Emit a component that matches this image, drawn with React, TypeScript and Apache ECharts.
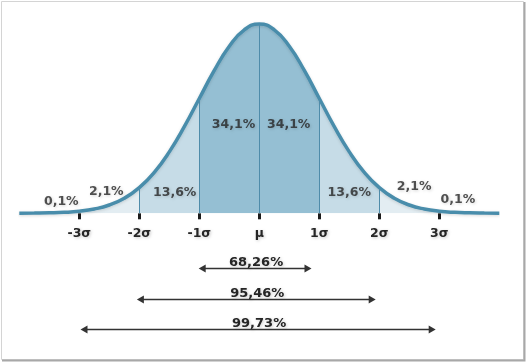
import React, { useEffect, useRef } from "react";
import * as echarts from "echarts";

// Curve samples (x in σ units, density height)
const xs = [-4, -3.75, -3.5, -3.25, -3, -2.75, -2.5, -2.25, -2, -1.75, -1.5, -1.25, -1, -0.75, -0.5, -0.25, 0,
  0.25, 0.5, 0.75, 1, 1.25, 1.5, 1.75, 2, 2.25, 2.5, 2.75, 3, 3.25, 3.5, 3.75, 4];
const density = [0.0001, 0.0004, 0.0009, 0.002, 0.0044, 0.0091, 0.0175, 0.0317, 0.054, 0.0863, 0.1295, 0.1826, 0.242, 0.3011, 0.3521, 0.3867, 0.3989,
  0.3867, 0.3521, 0.3011, 0.242, 0.1826, 0.1295, 0.0863, 0.054, 0.0317, 0.0175, 0.0091, 0.0044, 0.002, 0.0009, 0.0004, 0.0001];

// Band boundaries (vertical lines)
const bandEdges = [-2, -1, 0, 1, 2];

// Axis ticks
const tickValues = [-3, -2, -1, 0, 1, 2, 3];
const tickLabels = ["-3σ", "-2σ", "-1σ", "μ", "1σ", "2σ", "3σ"];

// Area percentage labels
const areaLabels = ["0,1%", "2,1%", "13,6%", "34,1%", "34,1%", "13,6%", "2,1%", "0,1%"];
const areaLabelX = [-3.3, -2.55, -1.41, -0.43, 0.49, 1.5, 2.58, 3.31];
const areaLabelY = [0.028, 0.0476, 0.0464, 0.19, 0.19, 0.0464, 0.058, 0.0316];

// Range arrows
const rangeLabels = ["68,26%", "95,46%", "99,73%"];
const rangeStart = [-1.01, -2.04, -2.98];
const rangeEnd = [0.87, 1.94, 2.94];
const rangeRow = [0.5, 1.5, 2.5];

const COLORS = {
  tail: "#e3edf2",
  light: "#c6dce7",
  dark: "#95bfd3",
  curve: "#4a8dab",
  edge: "#4f8caa",
  text: "#252525",
  axis: "#1c1c1c",
};

const FONT = "'DejaVu Sans', Verdana, sans-serif";

export default function App() {
  const ref = useRef<HTMLDivElement>(null);
  useEffect(() => {
    if (!ref.current) return;
    const chart = echarts.init(ref.current, null, { renderer: "svg" });
    const curve = xs.map((x, i) => [x, density[i]]);
    const textShadow = {
      textShadowColor: "rgba(0,0,0,0.2)",
      textShadowBlur: 3,
      textShadowOffsetX: 1,
      textShadowOffsetY: 1,
    };
    const option: any = {
      animation: false,
      backgroundColor: "#ffffff",
      grid: [
        { left: 20.5, right: 29.5, top: 23.5, bottom: 148.7 },
        { left: 20.5, right: 29.5, top: 252.5, height: 92 },
      ],
      xAxis: [
        {
          type: "value",
          gridIndex: 0,
          min: -3.98,
          max: 3.97,
          splitLine: { show: false },
          axisLine: {
            lineStyle: { color: COLORS.axis, width: 3, shadowColor: "rgba(0,0,0,0.25)", shadowBlur: 2, shadowOffsetY: 1 },
          },
          axisTick: {
            customValues: tickValues,
            length: 6,
            lineStyle: { color: COLORS.axis, width: 3 },
          },
          axisLabel: {
            customValues: tickValues,
            formatter: (v: number) => {
              const i = tickValues.indexOf(Math.round(v));
              return i >= 0 ? tickLabels[i] : "";
            },
            margin: 13,
            color: COLORS.text,
            fontFamily: FONT,
            fontWeight: "bold",
            fontSize: 12.5,
            ...textShadow,
          },
        },
        { type: "value", gridIndex: 1, min: -3.98, max: 3.97, show: false },
      ],
      yAxis: [
        { type: "value", gridIndex: 0, min: 0, max: 0.4, show: false },
        { type: "value", gridIndex: 1, min: 0, max: 3, inverse: true, show: false },
      ],
      visualMap: {
        show: false,
        type: "piecewise",
        seriesIndex: 0,
        dimension: 0,
        pieces: [
          { lt: -2, color: COLORS.tail },
          { gte: -2, lt: -1, color: COLORS.light },
          { gte: -1, lt: 1, color: COLORS.dark },
          { gte: 1, lt: 2, color: COLORS.light },
          { gte: 2, color: COLORS.tail },
        ],
      },
      series: [
        {
          type: "line",
          data: curve,
          smooth: true,
          showSymbol: false,
          lineStyle: { width: 0, opacity: 0 },
          areaStyle: { opacity: 1 },
          silent: true,
          z: 1,
          markLine: {
            silent: true,
            symbol: "none",
            label: { show: false },
            lineStyle: { color: COLORS.edge, width: 1, type: "solid" },
            data: bandEdges.map((b) => {
              const i = xs.indexOf(b);
              return [{ coord: [b, 0] }, { coord: [b, density[i]] }];
            }),
          },
        },
        {
          type: "line",
          data: curve,
          smooth: true,
          showSymbol: false,
          clip: false,
          silent: true,
          lineStyle: {
            width: 3.5,
            color: COLORS.curve,
            shadowColor: "rgba(0,0,0,0.15)",
            shadowBlur: 3,
            shadowOffsetY: 1,
          },
          z: 3,
        },
        {
          type: "scatter",
          symbolSize: 0,
          silent: true,
          data: areaLabels.map((t, i) => ({ name: t, value: [areaLabelX[i], areaLabelY[i]] })),
          label: {
            show: true,
            position: "inside",
            formatter: (p: any) => p.name,
            color: COLORS.text,
            fontFamily: FONT,
            fontWeight: "bold",
            fontSize: 12.5,
            ...textShadow,
          },
          z: 5,
        },
        {
          type: "custom",
          xAxisIndex: 1,
          yAxisIndex: 1,
          silent: true,
          clip: false,
          data: rangeLabels.map((t, i) => [rangeStart[i], rangeEnd[i], rangeRow[i], i]),
          renderItem: (params: any, api: any) => {
            const p1 = api.coord([api.value(0), api.value(2)]);
            const p2 = api.coord([api.value(1), api.value(2)]);
            const idx = api.value(3);
            const y = Math.round(p1[1]) + 0.5;
            const L = 7;
            const h = 4;
            return {
              type: "group",
              children: [
                {
                  type: "line",
                  shape: { x1: p1[0] + L - 1, y1: y, x2: p2[0] - L + 1, y2: y },
                  style: { stroke: "#333333", lineWidth: 1.5 },
                },
                {
                  type: "polygon",
                  shape: { points: [[p1[0], y], [p1[0] + L, y - h], [p1[0] + L, y + h]] },
                  style: { fill: "#333333" },
                },
                {
                  type: "polygon",
                  shape: { points: [[p2[0], y], [p2[0] - L, y - h], [p2[0] - L, y + h]] },
                  style: { fill: "#333333" },
                },
                {
                  type: "text",
                  x: (p1[0] + p2[0]) / 2 + 1,
                  y: y - 7.5,
                  style: {
                    text: rangeLabels[idx],
                    fill: COLORS.text,
                    font: `bold 13px ${FONT}`,
                    align: "center",
                    verticalAlign: "middle",
                    ...textShadow,
                  },
                },
              ],
            };
          },
          z: 5,
        },
      ],
      graphic: [
        {
          type: "rect",
          shape: { x: 1.5, y: 1.5, width: 522, height: 358 },
          style: { fill: "none", stroke: "#d4d4d4", lineWidth: 1 },
          silent: true,
        },
        {
          type: "polyline",
          shape: { points: [[524.5, 2], [524.5, 360.5], [2, 360.5]] },
          style: { fill: "none", stroke: "#a8a8a8", lineWidth: 2 },
          silent: true,
        },
      ],
    };
    chart.setOption(option);
    return () => chart.dispose();
  }, []);
  return (
    <div
      ref={ref}
      style={{ position: "absolute", left: 0, top: 0, width: 527, height: 362 }}
    />
  );
}
